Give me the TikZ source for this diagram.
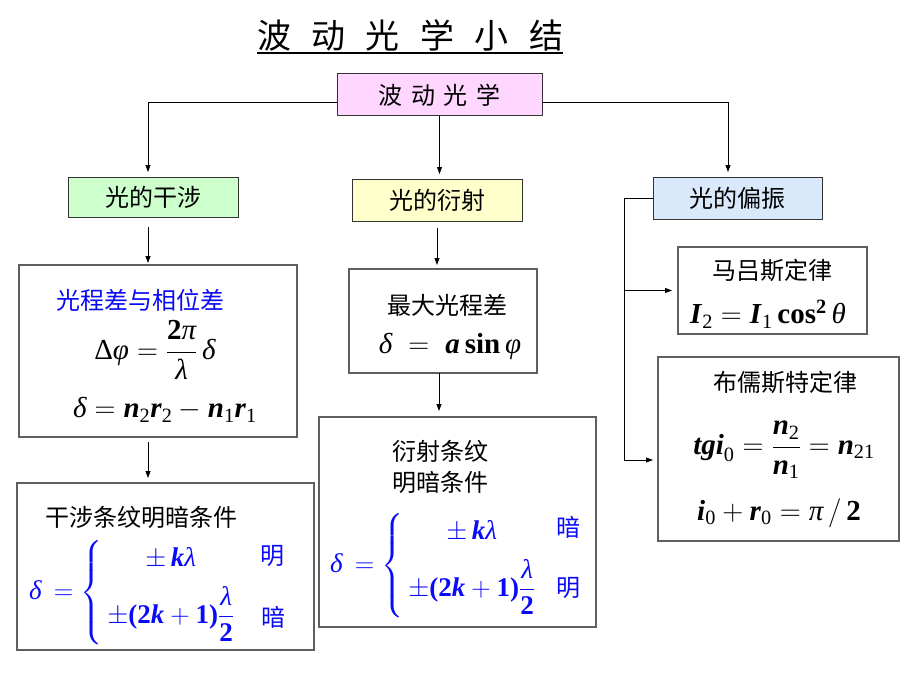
\RequirePackage{fix-cm}
\documentclass[tikz,border=0pt]{standalone}
\usepackage{amsmath}
\usepackage{fontspec}
\setmainfont{Liberation Serif}
\newfontfamily\cjk{Noto Sans CJK SC}
\usetikzlibrary{arrows.meta}

\definecolor{rootpink}{RGB}{255,214,255}
\definecolor{interfgreen}{RGB}{204,255,204}
\definecolor{diffryellow}{RGB}{255,255,204}
\definecolor{polarblue}{RGB}{217,232,251}
\definecolor{framegray}{RGB}{95,95,95}
\definecolor{formblue}{RGB}{10,10,250}

\newcommand{\bi}[1]{\textbf{\textit{#1}}}
\newcommand{\gk}[1]{\textit{#1}}
\newcommand{\cn}{\cjk\fontsize{24}{31}\selectfont}
\newcommand{\fm}{\fontsize{29}{35}\selectfont}
\newcommand{\fc}{\fontsize{27}{32}\selectfont}

\begin{document}
\begin{tikzpicture}[x=1pt, y=-1pt,
    headbox/.style={draw=black!80, line width=1pt, inner sep=0pt, outer sep=0pt, font=\cn},
    frame/.style={draw=framegray, line width=1.2pt, fill=white, inner sep=0pt, outer sep=0pt},
    arr/.style={-{Triangle[length=7pt,width=5pt]}, line width=0.8pt, shorten >=5pt},
    cnlabel/.style={font=\cn, inner sep=0pt},
    formula/.style={font=\fm, inner sep=0pt},
    cases/.style={font=\fc, inner sep=0pt, text=formblue, anchor=west}]

    \useasboundingbox (0,0) rectangle (920,690);

    % title
    \node[font=\cjk\fontsize{34}{40}\selectfont, inner sep=0pt] (title) at (410,35)
        {波\hspace{.6em}动\hspace{.6em}光\hspace{.6em}学\hspace{.6em}小\hspace{.6em}结};
    \draw[line width=2.2pt] ([yshift=-2pt]title.south west) -- ([yshift=-2pt]title.south east);

    % heads
    \node[headbox, fill=rootpink, minimum width=205pt, minimum height=42pt] (root) at (439.5,95)
        {波\hspace{.35em}动\hspace{.35em}光\hspace{.35em}学};
    \node[headbox, fill=interfgreen, minimum width=170pt, minimum height=40pt] (interf) at (153,197) {光的干涉};
    \node[headbox, fill=diffryellow, minimum width=170pt, minimum height=42pt] (diffr) at (437,200) {光的衍射};
    \node[headbox, fill=polarblue, minimum width=169pt, minimum height=42pt] (polar) at (737.5,198) {光的偏振};

    % frames
    \node[frame, minimum width=278pt, minimum height=172pt] (interfA) at (158,351) {};
    \node[frame, minimum width=297pt, minimum height=167pt] (interfB) at (165.5,566.5) {};
    \node[frame, minimum width=188pt, minimum height=104pt] (diffrA) at (443,321) {};
    \node[frame, minimum width=277pt, minimum height=210pt] (diffrB) at (457.5,522) {};
    \node[frame, minimum width=189pt, minimum height=87pt] (malus) at (772.5,290.5) {};
    \node[frame, minimum width=241pt, minimum height=184pt] (brewster) at (778.5,449) {};

    % connectors
    \draw[arr] ([yshift=-7pt]root.west) -| ([xshift=-5pt]interf.north);
    \draw[arr] ([yshift=-7pt]root.east) -| ([xshift=-9.5pt]polar.north);
    \draw[arr] (root.south) -- (root.south |- diffr.north);
    \draw[arr, shorten <=10pt, shorten >=2pt] ([xshift=-5pt]interf.south) -- ([xshift=-5pt]interf.south |- interfA.north);
    \draw[arr, shorten <=5pt] ([xshift=-10pt]interfA.south) -- ([xshift=-10pt]interfA.south |- interfB.north);
    \draw[arr, shorten <=7pt, shorten >=4pt] (diffr.south) -- (diffr.south |- diffrA.north);
    \draw[arr, shorten >=6pt] ([xshift=-4pt]diffrA.south) -- ([xshift=-4pt]diffrA.south |- diffrB.north);
    \coordinate (polarbend) at (624,460);
    \draw[line width=0.8pt] (polar.west) -| (polarbend);
    \draw[arr] (polarbend) -- (polarbend -| brewster.west);
    \draw[arr, shorten >=6pt] (polarbend |- malus.west) -- (malus.west);

    % interference
    \node[cnlabel, text=formblue] (phasetitle) at (140,300) {光程差与相位差};
    \node[formula] (phase) at (155,350) {$\text{Δ}\gk{φ}=\dfrac{\textbf{2}\gk{π}}{\gk{λ}}\,\gk{δ}$};
    \node[formula] (pathdiff) at (165,410) {$\gk{δ}=\bi{n}_{\text{2}}\bi{r}_{\text{2}}-\bi{n}_{\text{1}}\bi{r}_{\text{1}}$};
    \node[cnlabel] (interftitle) at (141,517) {干涉条纹明暗条件};
    \node[cases] (interfcond) at (29,593)
        {$\gk{δ}\,=\left\{\begin{array}{@{\,}c@{}}\pm\,\bi{k}\gk{λ}\\[10pt]\pm\textbf{(2}\bi{k}+\textbf{1)}\dfrac{\gk{λ}}{\textbf{2}}\end{array}\right.$};
    \node[cnlabel, text=formblue] (interfbright) at (272,556) {明};
    \node[cnlabel, text=formblue] (interfdark) at (273,617) {暗};

    % diffraction
    \node[cnlabel] (maxpath) at (447,305) {最大光程差};
    \node[formula] (grating) at (450,346) {$\gk{δ}\;=\;\bi{a}\,\textbf{sin}\,\gk{φ}$};
    \node[cnlabel, align=center] (diffrtitle) at (440,467) {衍射条纹\\明暗条件};
    \node[cases] (diffrcond) at (330,566)
        {$\gk{δ}\,=\left\{\begin{array}{@{\,}c@{}}\pm\,\bi{k}\gk{λ}\\[10pt]\pm\textbf{(2}\bi{k}+\textbf{1)}\dfrac{\gk{λ}}{\textbf{2}}\end{array}\right.$};
    \node[cnlabel, text=formblue] (diffrdark) at (568,527) {暗};
    \node[cnlabel, text=formblue] (diffrbright) at (568,588) {明};

    % polarization
    \node[cnlabel] (malustitle) at (772,270) {马吕斯定律};
    \node[formula] (maluslaw) at (768,314) {$\bi{I}_{\text{2}}=\bi{I}_{\text{1}}\,\textbf{cos}^{\textbf{2}}\,\gk{θ}$};
    \node[cnlabel] (brewstertitle) at (785,382) {布儒斯特定律};
    \node[formula] (brewsterlaw) at (784,450) {$\bi{tgi}_{\text{0}}=\dfrac{\bi{n}_{\text{2}}}{\bi{n}_{\text{1}}}=\bi{n}_{\text{21}}$};
    \node[formula] (brewsterangle) at (779,513) {$\bi{i}_{\text{0}}+\bi{r}_{\text{0}}=\gk{π}\,/\,\textbf{2}$};

\end{tikzpicture}
\end{document}
